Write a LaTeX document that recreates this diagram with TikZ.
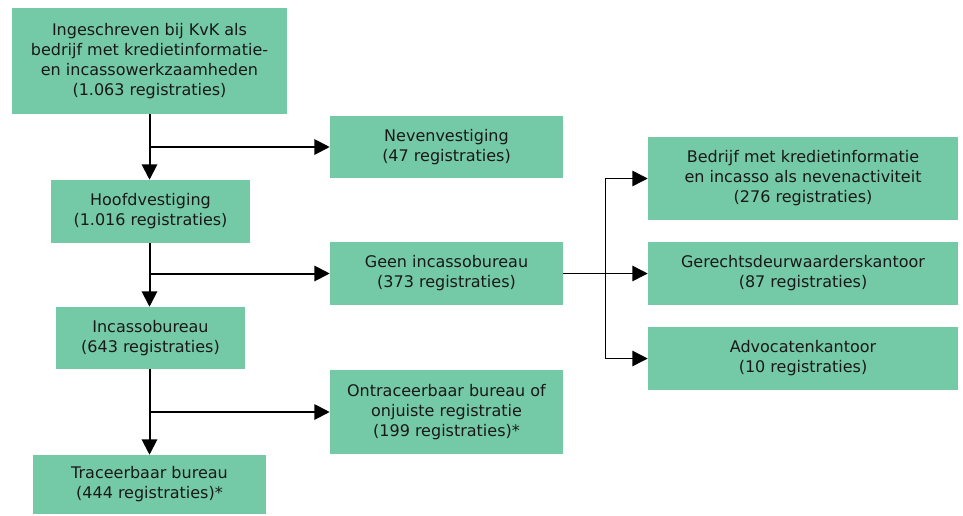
\documentclass[tikz,border=0pt]{standalone}
\usepackage{fontspec}
\setmainfont{DejaVu Sans}
\usetikzlibrary{arrows.meta,calc}
\definecolor{kvkgroen}{HTML}{74C9A6}

\tikzset{
  blok/.style 2 args={fill=kvkgroen, align=center, inner sep=0pt,
    minimum width=#1*0.75pt, minimum height=#2*0.75pt,
    font=\fontsize{12pt}{15pt}\selectfont, text=black!90},
  pijl/.style={line width=1.5pt, -{Triangle[length=11.5pt,width=11.5pt]}},
  dunpijl/.style={line width=1.1pt, -{Triangle[length=11.5pt,width=11.5pt]}}
}

\begin{document}
\begin{tikzpicture}[x=0.75pt,y=-0.75pt]
      \useasboundingbox (0,0) rectangle (963,515);

      % linker kolom
      \node [blok={275}{106}] (kvk) at (149.5,61) {Ingeschreven bij KvK als\\bedrijf met kredietinformatie-\\en incassowerkzaamheden\\(1.063 registraties)};
      \node [blok={199}{63}] (hoofd) at (150.5,211.5) {Hoofdvestiging\\(1.016 registraties)};
      \node [blok={189}{62}] (incasso) at (150.5,338) {Incassobureau\\(643 registraties)};
      \node [blok={233}{59}] (traceer) at (149.5,484.5) {Traceerbaar bureau\\(444 registraties)*};

      % middelste kolom
      \node [blok={233}{62}] (neven) at (446.5,147) {Nevenvestiging\\(47 registraties)};
      \node [blok={233}{63}] (geen) at (446.5,273.5) {Geen incassobureau\\(373 registraties)};
      \node [blok={233}{84}] (ontraceer) at (446.5,412) {Ontraceerbaar bureau of\\onjuiste registratie\\(199 registraties)*};

      % rechter kolom
      \node [blok={310}{83}] (bedrijf) at (803,178.5) {Bedrijf met kredietinformatie\\en incasso als nevenactiviteit\\(276 registraties)};
      \node [blok={310}{63}] (deurw) at (803,273.5) {Gerechtsdeurwaarderskantoor\\(87 registraties)};
      \node [blok={310}{63}] (advocaat) at (803,358.5) {Advocatenkantoor\\(10 registraties)};

      % pijlen
      \draw [pijl] (kvk.south) -- (kvk.south |- hoofd.north);
      \draw [pijl] (kvk.south |- neven.west) -- (neven.west);
      \draw [pijl] (kvk.south |- hoofd.south) -- (kvk.south |- incasso.north);
      \draw [pijl] (kvk.south |- geen.west) -- (geen.west);
      \draw [pijl] (kvk.south |- incasso.south) -- (kvk.south |- traceer.north);
      \draw [pijl] (kvk.south |- ontraceer.west) -- (ontraceer.west);

      \coordinate (splits) at ($(geen.east)+(42,0)$);
      \draw [line width=1.1pt] (geen.east) -- (splits);
      \draw [dunpijl] (splits) |- (bedrijf.west);
      \draw [dunpijl] (splits) -- (deurw.west);
      \draw [dunpijl] (splits) |- (advocaat.west);
\end{tikzpicture}
\end{document}
